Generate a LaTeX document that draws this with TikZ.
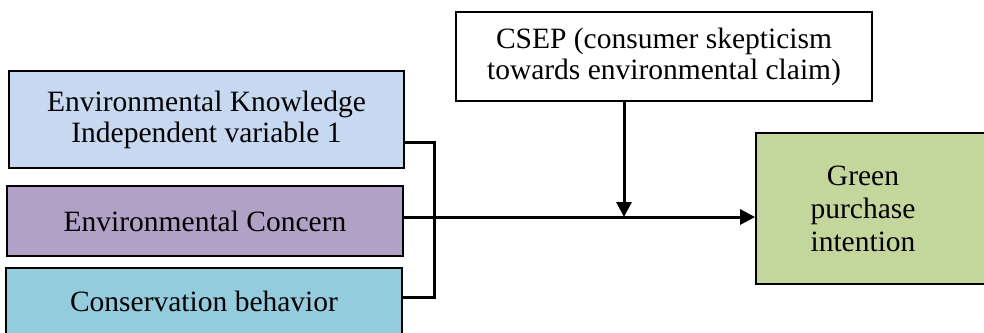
\documentclass[tikz,border=0pt]{standalone}
\usepackage{fontspec}
\setmainfont{Liberation Serif}
\usetikzlibrary{arrows.meta}
\definecolor{cblue}{HTML}{C6D9F1}
\definecolor{cpurple}{HTML}{B2A1C7}
\definecolor{cteal}{HTML}{93CDDD}
\definecolor{cgreen}{HTML}{C3D69B}
\tikzset{
  box/.style={draw=black, line width=1.8pt, inner sep=0pt, align=center,
    font=\fontsize{29.5}{31}\selectfont},
  conn/.style={line width=3pt, line cap=rect},
  arr/.style={line width=3pt, -{Triangle[length=15pt,width=15pt]}},
}
\begin{document}
\begin{tikzpicture}[x=1pt,y=-1pt]
\useasboundingbox (0,0) rectangle (984,332);
\clip (0,0) rectangle (984,332);
\node[box, fill=cblue, minimum width=395pt, minimum height=97pt] (ek) at (206.5,119.5)
  {Environmental Knowledge\\Independent variable 1};
\node[box, fill=cpurple, minimum width=396pt, minimum height=70pt] (ec) at (205,221)
  {Environmental Concern};
\node[box, fill=cteal, minimum width=396pt, minimum height=66pt] (cb) at (204,301)
  {Conservation behavior};
\node[box, fill=white, minimum width=416pt, minimum height=89pt] (csep) at (664,56.5)
  {CSEP (consumer skepticism\\towards environmental claim)};
\node[box, fill=cgreen, minimum width=240pt, minimum height=151pt, text width=240pt,
  font=\fontsize{29.5}{33}\selectfont] (gpi) at (876,208.5)
  {\hspace*{-26pt}Green\\\hspace*{-26pt}purchase\\\hspace*{-26pt}intention};
\coordinate (jt) at (434,142);
\coordinate (jb) at (434,297);
\coordinate (jm) at (434,217);
\coordinate (mod) at (624,217);
\draw[conn] (ek.east |- jt) -- (jt) -- (jb) -- (cb.east |- jb);
\draw[arr] (ec.east |- jm) -- (gpi.west |- jm);
\draw[arr] (csep.south -| mod) -- (mod);
\end{tikzpicture}
\end{document}
